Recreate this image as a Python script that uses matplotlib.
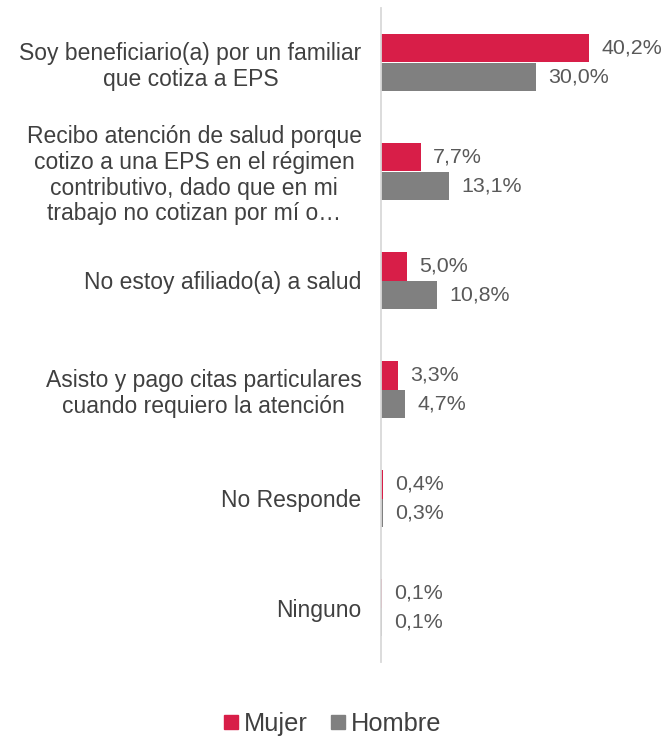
import matplotlib
matplotlib.use("Agg")
import matplotlib.pyplot as plt
from matplotlib.lines import Line2D
import numpy as np

plt.rcParams['font.family'] = ['Liberation Sans', 'DejaVu Sans']

categories = [
    "Soy beneficiario(a) por un familiar\nque cotiza a EPS",
    "Recibo atención de salud porque\ncotizo a una EPS en el régimen\ncontributivo, dado que en mi\ntrabajo no cotizan por mí o…",
    "No estoy afiliado(a) a salud",
    "Asisto y pago citas particulares\ncuando requiero la atención",
    "No Responde",
    "Ninguno",
]
mujer = [40.2, 7.7, 5.0, 3.3, 0.4, 0.1]
hombre = [30.0, 13.1, 10.8, 4.7, 0.3, 0.1]
series_names = ["Mujer", "Hombre"]

C_MUJER = "#D81E48"
C_HOMBRE = "#808080"
TXT = "#404040"
VAL = "#595959"

W, H = 666, 738
fig = plt.figure(figsize=(W / 100, H / 100), dpi=100)
ax = fig.add_axes([381 / W, 1 - 662 / H, 258.5 / W, (662 - 8) / H])

y = np.arange(len(categories))
bh = 0.257
ax.barh(y - bh / 2, mujer, height=bh, color=C_MUJER)
ax.barh(y + bh / 2, hombre, height=bh, color=C_HOMBRE)

def fmt(v):
    return f"{v:.1f}".replace(".", ",") + "%"

for yi, v in zip(y - bh / 2, mujer):
    ax.annotate(fmt(v), (v, yi), xytext=(9, 0), textcoords="offset points",
                va="center", ha="left", fontsize=15.4, color=VAL)
for yi, v in zip(y + bh / 2, hombre):
    ax.annotate(fmt(v), (v, yi), xytext=(9, 0), textcoords="offset points",
                va="center", ha="left", fontsize=15.4, color=VAL)

ax.set_xlim(0, 50)
ax.set_ylim(len(categories) - 0.5, -0.5)
ax.set_yticks(y)
ax.set_yticklabels(categories, fontsize=16.5, color=TXT, multialignment="center",
                   linespacing=1.15)
ax.tick_params(axis="y", length=0, pad=14)
ax.set_xticks([])
for s in ["top", "right", "bottom"]:
    ax.spines[s].set_visible(False)
ax.spines["left"].set_color("#d9d9d9")
ax.spines["left"].set_linewidth(1.3)

handles = [
    Line2D([], [], marker="s", linestyle="none", markersize=10.5, color=C_MUJER),
    Line2D([], [], marker="s", linestyle="none", markersize=10.5, color=C_HOMBRE),
]
fig.legend(handles, series_names, loc="center", bbox_to_anchor=(331 / W, 1 - 724 / H),
           ncol=2, frameon=False, fontsize=18.3, handletextpad=0.1,
           columnspacing=0.8, handlelength=0.8, labelcolor=TXT)

fig.savefig("out.png", dpi=100)
